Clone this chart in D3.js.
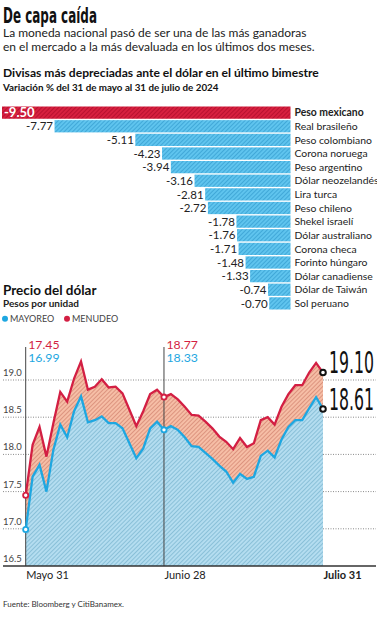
<!DOCTYPE html>
<html>
<head>
<meta charset="utf-8">
<script src="https://cdn.jsdelivr.net/npm/d3@7"></script>
<style>
  body { margin: 0; background: #fff; }
  svg { display: block; font-family: Lato, "Open Sans", sans-serif; }
</style>
</head>
<body>
<svg id="drawing_region"></svg>
<script>
// Divisas: variación % del 31 de mayo al 31 de julio de 2024
const currencies = ["Peso mexicano", "Real brasileño", "Peso colombiano", "Corona noruega",
    "Peso argentino", "Dólar neozelandés", "Lira turca", "Peso chileno", "Shekel israelí",
    "Dólar australiano", "Corona checa", "Forinto húngaro", "Dólar canadiense",
    "Dólar de Taiwán", "Sol peruano"];
const changes = [-9.50, -7.77, -5.11, -4.23, -3.94, -3.16, -2.81, -2.72, -1.78,
    -1.76, -1.71, -1.48, -1.33, -0.74, -0.70];

// Precio del dólar, pesos por unidad
const dates = ["2024-05-31",
    "2024-06-03", "2024-06-04", "2024-06-05", "2024-06-06", "2024-06-07",
    "2024-06-10", "2024-06-11", "2024-06-12", "2024-06-13", "2024-06-14",
    "2024-06-17", "2024-06-18", "2024-06-19", "2024-06-20", "2024-06-21",
    "2024-06-24", "2024-06-25", "2024-06-26", "2024-06-27", "2024-06-28",
    "2024-07-01", "2024-07-02", "2024-07-03", "2024-07-04", "2024-07-05",
    "2024-07-08", "2024-07-09", "2024-07-10", "2024-07-11", "2024-07-12",
    "2024-07-15", "2024-07-16", "2024-07-17", "2024-07-18", "2024-07-19",
    "2024-07-22", "2024-07-23", "2024-07-24", "2024-07-25", "2024-07-26",
    "2024-07-29", "2024-07-30", "2024-07-31"];
const mayoreo = [16.99, 17.70, 17.86, 17.50, 18.06, 18.40, 18.23, 18.58, 18.78, 18.43,
    18.46, 18.51, 18.42, 18.42, 18.35, 18.15, 17.95, 18.08, 18.35, 18.44, 18.33,
    18.38, 18.33, 18.23, 18.11, 18.10, 18.02, 17.94, 17.85, 17.77, 17.62, 17.74,
    17.67, 17.70, 17.98, 18.05, 17.96, 18.20, 18.37, 18.46, 18.46, 18.62, 18.77, 18.61];
const menudeo = [17.45, 18.13, 18.37, 17.97, 18.42, 18.84, 18.71, 19.02, 19.25, 18.87,
    18.91, 19.01, 18.90, 18.91, 18.82, 18.60, 18.38, 18.58, 18.81, 18.87, 18.77,
    18.81, 18.74, 18.64, 18.53, 18.52, 18.44, 18.35, 18.24, 18.17, 18.07, 18.22,
    18.10, 18.15, 18.46, 18.50, 18.40, 18.64, 18.81, 18.93, 18.93, 19.10, 19.23, 19.10];

const yTicks = [16.5, 17.0, 17.5, 18.0, 18.5, 19.0];
const xTickDates = ["2024-05-31", "2024-06-28", "2024-07-31"];
const xTickLabels = ["Mayo 31", "Junio 28", "Julio 31"];
const markedDates = ["2024-05-31", "2024-06-28"];

const RED = "#d31f43", BLUE = "#1ea7e1";
const NARROW = "'Liberation Sans Narrow', 'DejaVu Sans Condensed', sans-serif";

// plain hyphen for negatives, like the original
const locale = d3.formatLocale({decimal: ".", thousands: ",", grouping: [3], currency: ["$", ""], minus: "-"});
const f2 = locale.format(".2f");
const f1 = locale.format(".1f");

const svg = d3.select("#drawing_region").attr("width", 377).attr("height", 620);

// squeeze a condensed text horizontally to a given width
function condensed(parent, x, y, size, width, weight, str) {
    const t = parent.append("text")
        .style("font-family", NARROW)
        .style("font-size", size + "px").style("font-weight", weight)
        .style("fill", "#111")
        .text(str);
    const w = t.node().getComputedTextLength();
    t.attr("transform", `translate(${x},${y}) scale(${width / w},1)`);
    return t;
}

// hatch patterns
const defs = svg.append("defs");
function hatch(id, base, line) {
    const p = defs.append("pattern")
        .attr("id", id)
        .attr("patternUnits", "userSpaceOnUse")
        .attr("width", 3).attr("height", 3)
        .attr("patternTransform", "rotate(45)");
    p.append("rect").attr("width", 3).attr("height", 3).attr("fill", base);
    p.append("line").attr("x1", 0.5).attr("y1", 0).attr("x2", 0.5).attr("y2", 3)
        .attr("stroke", line).attr("stroke-width", 0.9);
}
hatch("barRed", "#d7203f", "#b5102f");
hatch("barBlue", "#5fc4ee", "#3da5d6");
hatch("areaBlue", "#b4ddf0", "#86bcd6");
hatch("areaRed", "#f6bea6", "#d9907b");

// headings
condensed(svg, 3, 22.5, 21, 94, "bold", "De capa caída");
svg.append("text").attr("x", 3).attr("y", 37)
    .style("font-size", "12px").style("fill", "#222")
    .text("La moneda nacional pasó de ser una de las más ganadoras");
svg.append("text").attr("x", 3).attr("y", 50.5)
    .style("font-size", "12px").style("fill", "#222")
    .text("en el mercado a la más devaluada en los últimos dos meses.");
svg.append("text").attr("x", 3).attr("y", 77)
    .style("font-size", "12.1px").style("font-weight", "bold").style("fill", "#111")
    .text("Divisas más depreciadas ante el dólar en el último bimestre");
svg.append("text").attr("x", 3).attr("y", 91)
    .style("font-size", "9.8px").style("font-weight", "bold").style("fill", "#111")
    .text("Variación % del 31 de mayo al 31 de julio de 2024");

// ---- bar chart ----
const xbar = d3.scaleLinear().domain([-9.5, 0]).range([2, 290.5]);
const ybar = d3.scaleBand().domain(currencies).range([106.5, 309.5]).paddingInner(0.1);

const bars = svg.append("g");
bars.selectAll("rect")
    .data(currencies)
    .join("rect")
    .attr("x", (d, i) => xbar(changes[i]))
    .attr("y", d => ybar(d))
    .attr("width", (d, i) => xbar(0) - xbar(changes[i]))
    .attr("height", ybar.bandwidth())
    .attr("fill", (d, i) => i === 0 ? "url(#barRed)" : "url(#barBlue)");

bars.selectAll("text.name")
    .data(currencies)
    .join("text")
    .attr("class", "name")
    .attr("x", xbar(0) + 4)
    .attr("y", d => ybar(d) + ybar.bandwidth() / 2)
    .attr("dy", "0.36em")
    .style("font-size", "10.4px")
    .style("font-weight", (d, i) => i === 0 ? "bold" : "normal")
    .style("fill", "#222")
    .text(d => d);

bars.selectAll("text.value")
    .data(currencies)
    .join("text")
    .attr("class", "value")
    .attr("x", (d, i) => i === 0 ? xbar(changes[i]) + 2 : xbar(changes[i]) - 1.5)
    .attr("y", d => ybar(d) + ybar.bandwidth() / 2)
    .attr("dy", "0.36em")
    .attr("text-anchor", (d, i) => i === 0 ? "start" : "end")
    .style("font-size", (d, i) => i === 0 ? "13px" : "11.5px")
    .style("font-weight", (d, i) => i === 0 ? "bold" : "normal")
    .style("fill", (d, i) => i === 0 ? "#fff" : "#222")
    .text((d, i) => f2(changes[i]));

// ---- line chart ----
svg.append("text").attr("x", 3).attr("y", 295)
    .style("font-size", "13.5px").style("font-weight", "bold").style("fill", "#111")
    .text("Precio del dólar");
svg.append("text").attr("x", 3).attr("y", 307)
    .style("font-size", "10px").style("font-weight", "bold").style("fill", "#222")
    .text("Pesos por unidad");

const legend = svg.append("g").attr("transform", "translate(0,322)");
[["MAYOREO", BLUE, 5], ["MENUDEO", RED, 67]].forEach(([name, color, lx]) => {
    legend.append("circle").attr("cx", lx).attr("cy", -3.3).attr("r", 3).attr("fill", color);
    legend.append("text").attr("x", lx + 5).attr("y", 0)
        .style("font-size", "9px").style("fill", "#444").text(name);
});

const xs = d3.scalePoint().domain(dates).range([25.7, 323]);
const ys = d3.scaleLinear().domain([16.5, 19.0]).range([566, 380]);

const chart = svg.append("g");

// grid
chart.selectAll("line.grid")
    .data(yTicks.slice(1))
    .join("line")
    .attr("class", "grid")
    .attr("x1", 3).attr("x2", 376)
    .attr("y1", d => ys(d)).attr("y2", d => ys(d))
    .attr("stroke", "#8a8a8a").attr("stroke-width", 1)
    .attr("stroke-dasharray", "1,1.5");

const blueArea = d3.area()
    .x((d, i) => xs(dates[i]))
    .y0(ys(16.5))
    .y1(d => ys(d));
chart.append("path")
    .attr("d", blueArea(mayoreo))
    .attr("fill", "url(#areaBlue)");

const gapArea = d3.area()
    .x(d => xs(d))
    .y0((d, i) => ys(mayoreo[i]))
    .y1((d, i) => ys(menudeo[i]));
chart.append("path")
    .attr("d", gapArea(dates))
    .attr("fill", "url(#areaRed)");

// reference verticals
chart.selectAll("line.mark")
    .data(markedDates)
    .join("line")
    .attr("class", "mark")
    .attr("x1", d => xs(d)).attr("x2", d => xs(d))
    .attr("y1", 347).attr("y2", ys(16.5))
    .attr("stroke", "#444").attr("stroke-width", 1);

const line = d3.line().x((d, i) => xs(dates[i])).y(d => ys(d));
chart.append("path").attr("d", line(menudeo))
    .attr("fill", "none").attr("stroke", RED).attr("stroke-width", 2.3);
chart.append("path").attr("d", line(mayoreo))
    .attr("fill", "none").attr("stroke", BLUE).attr("stroke-width", 2.3);

// baseline + y labels
chart.append("line")
    .attr("x1", 3).attr("x2", 376)
    .attr("y1", ys(16.5)).attr("y2", ys(16.5))
    .attr("stroke", "#333").attr("stroke-width", 1.5);

chart.selectAll("text.ytick")
    .data(yTicks)
    .join("text")
    .attr("class", "ytick")
    .attr("x", 3)
    .attr("y", d => ys(d) - 4)
    .style("font-size", "9.5px").style("fill", "#444")
    .text(d => f1(d));

// markers at marked dates
markedDates.forEach(dt => {
    const i = dates.indexOf(dt);
    [[menudeo, RED], [mayoreo, BLUE]].forEach(([s, c]) => {
        chart.append("circle")
            .attr("cx", xs(dt)).attr("cy", ys(s[i])).attr("r", 2.6)
            .attr("fill", "#fff").attr("stroke", c).attr("stroke-width", 1.8);
    });
    chart.append("text").attr("x", xs(dt) + 2.5).attr("y", 348.5)
        .style("font-size", "12.3px").style("fill", RED)
        .text(f2(menudeo[i]));
    chart.append("text").attr("x", xs(dt) + 2.5).attr("y", 361.5)
        .style("font-size", "12.3px").style("fill", BLUE)
        .text(f2(mayoreo[i]));
});

// end markers
const last = dates.length - 1;
[menudeo, mayoreo].forEach(s => {
    chart.append("circle")
        .attr("cx", xs(dates[last])).attr("cy", ys(s[last])).attr("r", 2.8)
        .attr("fill", "#fff").attr("stroke", "#111").attr("stroke-width", 2);
    condensed(chart, 329, ys(s[last]) + 0.5, 31, 45, "normal", f2(s[last]));
});

// x axis labels
const xaxis = d3.axisBottom(xs)
    .tickValues(xTickDates)
    .tickSize(0)
    .tickPadding(0)
    .tickFormat(d => xTickLabels[xTickDates.indexOf(d)]);
const xg = chart.append("g")
    .attr("transform", `translate(0, ${ys(16.5)})`)
    .call(xaxis);
xg.select(".domain").remove();
xg.selectAll("text")
    .attr("text-anchor", "start")
    .attr("dy", 0).attr("y", 13)
    .style("font-family", "Lato, 'Open Sans', sans-serif")
    .style("font-size", "11px").style("fill", "#222")
    .style("font-weight", (d, i) => i === 2 ? "bold" : "normal");

svg.append("text").attr("x", 3).attr("y", 607)
    .style("font-size", "8px").style("fill", "#333")
    .text("Fuente: Bloomberg y CitiBanamex.");
</script>
</body>
</html>
